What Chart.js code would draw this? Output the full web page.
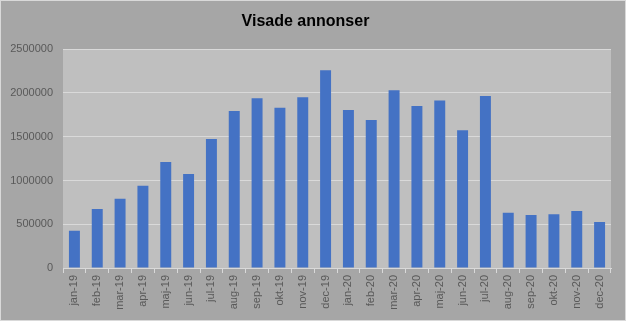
<!DOCTYPE html>
<html>
<head>
<meta charset="utf-8">
<script src="https://cdn.jsdelivr.net/npm/chart.js@4.4.0/dist/chart.umd.min.js"></script>
<style>
  html, body { margin: 0; padding: 0; background: #a6a6a6; }
  #wrap { width: 626px; height: 321px; position: relative; }
</style>
</head>
<body>
<div id="wrap"><canvas id="chart"></canvas></div>
<script>
// ===== Visade annonser =====
const months = [
  "jan-19", "feb-19", "mar-19", "apr-19", "maj-19", "jun-19",
  "jul-19", "aug-19", "sep-19", "okt-19", "nov-19", "dec-19",
  "jan-20", "feb-20", "mar-20", "apr-20", "maj-20", "jun-20",
  "jul-20", "aug-20", "sep-20", "okt-20", "nov-20", "dec-20"
];
const shownAds = [
  425000, 675000, 790000, 940000, 1210000, 1075000,
  1475000, 1795000, 1940000, 1830000, 1950000, 2260000,
  1805000, 1690000, 2030000, 1850000, 1915000, 1575000,
  1965000, 630000, 605000, 615000, 650000, 525000
];
const yMax = 2500000;
const yStep = 500000;

// gray panel + plot area background
const panelBg = {
  id: "panelBg",
  beforeDraw(chart) {
    const { ctx, chartArea: a, width, height } = chart;
    ctx.save();
    ctx.fillStyle = "#a6a6a6";
    ctx.fillRect(0, 0, width, height);
    ctx.strokeStyle = "#d9d9d9";
    ctx.lineWidth = 1;
    ctx.strokeRect(0.5, 0.5, width - 1, height - 1);
    ctx.fillStyle = "#bfbfbf";
    ctx.fillRect(a.left, a.top, a.right - a.left, a.bottom - a.top);
    ctx.restore();
  }
};

const ctx = document.getElementById("chart");
new Chart(ctx, {
  type: "bar",
  data: {
    labels: months,
    datasets: [{
      label: "Visade annonser",
      data: shownAds,
      backgroundColor: "#4472c4",
      barPercentage: 0.48,
      categoryPercentage: 1
    }]
  },
  options: {
    responsive: true,
    maintainAspectRatio: false,
    animation: false,
    layout: { padding: { left: 0, right: 15, top: 8, bottom: 0 } },
    plugins: {
      legend: { display: false },
      tooltip: { enabled: false },
      title: {
        display: true,
        text: "Visade annonser",
        color: "#000000",
        font: { family: "Liberation Sans", size: 16, weight: "bold" },
        padding: { top: 4, bottom: 18 }
      }
    },
    scales: {
      x: {
        grid: {
          drawOnChartArea: false,
          drawTicks: true,
          tickLength: 5,
          color: "#d9d9d9"
        },
        border: { color: "#d9d9d9" },
        ticks: {
          color: "#595959",
          font: { family: "Liberation Sans", size: 11 },
          maxRotation: 90,
          minRotation: 90,
          autoSkip: false,
          padding: 2
        },
        afterFit: s => { s.height = 53; }
      },
      y: {
        min: 0,
        max: yMax,
        grid: { color: "#d9d9d9", drawTicks: false },
        border: { display: false },
        ticks: {
          stepSize: yStep,
          color: "#595959",
          font: { family: "Liberation Sans", size: 11 },
          padding: 10,
          callback: v => String(v)
        },
        afterFit: s => { s.width = 63; }
      }
    }
  },
  plugins: [panelBg]
});
</script>
</body>
</html>
